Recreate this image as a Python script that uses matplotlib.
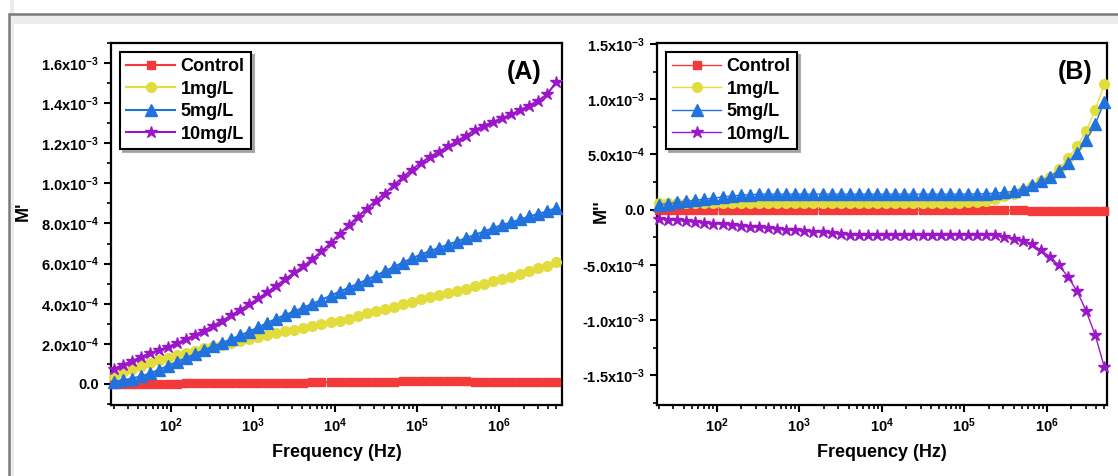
import numpy as np
import matplotlib
matplotlib.use("Agg")
import matplotlib.pyplot as plt
from matplotlib.ticker import FuncFormatter, LogLocator, MultipleLocator, AutoMinorLocator, NullFormatter, LogFormatterMathtext
from matplotlib.patches import Rectangle

plt.rcParams['font.family'] = 'Liberation Sans'
plt.rcParams['font.weight'] = 'bold'
plt.rcParams['mathtext.fontset'] = 'custom'
plt.rcParams['mathtext.rm'] = 'Liberation Sans:bold'
plt.rcParams['mathtext.bf'] = 'Liberation Sans:bold'
plt.rcParams['mathtext.it'] = 'Liberation Sans:bold'
plt.rcParams['mathtext.default'] = 'regular'

# frequency sweep (Hz)
freq = [20, 25.8, 33.2, 42.8, 55.2, 71.1, 91.7, 118.1, 152.3, 196.2,
        252.9, 326.0, 420.1, 541.5, 697.9, 899.5, 1159, 1494, 1926, 2482,
        3199, 4123, 5314, 6849, 8828, 11378, 14665, 18901, 24360, 31397,
        40465, 52154, 67219, 86636, 111660, 143880, 185460, 239040, 308070, 397090,
        511700, 659500, 850000, 1095600, 1412000, 1819700, 2345300, 3022800, 3895900, 5021000]

labels = ['Control', '1mg/L', '5mg/L', '10mg/L']

# M' values, in units of 1e-4
m1_control = [0.0, 0.0, 0.01, 0.01, 0.01, 0.02, 0.02, 0.02, 0.03, 0.03,
              0.03, 0.04, 0.04, 0.04, 0.05, 0.05, 0.05, 0.06, 0.06, 0.06,
              0.07, 0.07, 0.08, 0.08, 0.09, 0.09, 0.10, 0.10, 0.11, 0.11,
              0.12, 0.12, 0.13, 0.13, 0.13, 0.14, 0.14, 0.14, 0.13, 0.13,
              0.12, 0.12, 0.11, 0.10, 0.10, 0.09, 0.09, 0.08, 0.08, 0.08]
m1_1mg = [0.40, 0.57, 0.72, 0.88, 1.04, 1.17, 1.30, 1.42, 1.54, 1.66,
          1.77, 1.87, 1.96, 2.05, 2.13, 2.22, 2.32, 2.42, 2.52, 2.62,
          2.71, 2.80, 2.89, 2.99, 3.07, 3.16, 3.26, 3.38, 3.52, 3.64,
          3.75, 3.86, 3.97, 4.09, 4.22, 4.32, 4.42, 4.52, 4.62, 4.74,
          4.87, 4.99, 5.12, 5.23, 5.34, 5.47, 5.61, 5.76, 5.88, 6.07]
m1_5mg = [0.12, 0.18, 0.27, 0.38, 0.52, 0.71, 0.90, 1.10, 1.29, 1.49,
          1.69, 1.87, 2.04, 2.23, 2.42, 2.61, 2.82, 3.04, 3.25, 3.44,
          3.62, 3.80, 3.99, 4.19, 4.40, 4.60, 4.79, 4.99, 5.19, 5.40,
          5.61, 5.83, 6.05, 6.26, 6.45, 6.62, 6.78, 6.94, 7.10, 7.27,
          7.43, 7.60, 7.77, 7.92, 8.05, 8.20, 8.35, 8.48, 8.60, 8.78]
m1_10mg = [0.75, 0.95, 1.14, 1.34, 1.52, 1.68, 1.85, 2.03, 2.23, 2.44,
           2.66, 2.90, 3.15, 3.42, 3.70, 3.97, 4.26, 4.57, 4.90, 5.23,
           5.56, 5.87, 6.23, 6.61, 7.02, 7.48, 7.90, 8.32, 8.74, 9.12,
           9.49, 9.90, 10.30, 10.68, 11.02, 11.32, 11.58, 11.84, 12.10, 12.38,
           12.66, 12.88, 13.07, 13.25, 13.44, 13.65, 13.88, 14.12, 14.45, 15.05]

# M'' values, in units of 1e-4
m2_control = [0.00, 0.00, 0.00, 0.00, 0.00, 0.00, 0.00, 0.00, 0.00, 0.00,
              0.00, 0.00, 0.00, 0.00, 0.00, 0.00, 0.00, 0.00, 0.00, 0.00,
              -0.01, -0.01, -0.01, -0.01, -0.02, -0.02, -0.02, -0.02, -0.03, -0.03,
              -0.03, -0.04, -0.04, -0.04, -0.05, -0.05, -0.05, -0.06, -0.06, -0.07,
              -0.07, -0.08, -0.08, -0.09, -0.09, -0.10, -0.10, -0.11, -0.11, -0.12]
m2_1mg = [0.60, 0.60, 0.60, 0.61, 0.61, 0.61, 0.62, 0.62, 0.62, 0.62,
          0.62, 0.62, 0.62, 0.62, 0.62, 0.62, 0.62, 0.62, 0.62, 0.62,
          0.62, 0.62, 0.62, 0.62, 0.62, 0.62, 0.62, 0.62, 0.62, 0.62,
          0.62, 0.62, 0.63, 0.63, 0.65, 0.70, 0.78, 0.96, 1.20, 1.44,
          1.74, 2.10, 2.55, 3.00, 3.67, 4.65, 5.77, 7.10, 9.07, 11.40]
m2_5mg = [0.45, 0.55, 0.65, 0.75, 0.85, 0.95, 1.05, 1.15, 1.24, 1.31,
          1.36, 1.39, 1.40, 1.40, 1.40, 1.40, 1.40, 1.40, 1.40, 1.40,
          1.40, 1.40, 1.40, 1.40, 1.40, 1.40, 1.40, 1.40, 1.40, 1.40,
          1.40, 1.40, 1.40, 1.40, 1.41, 1.42, 1.44, 1.50, 1.56, 1.65,
          1.89, 2.19, 2.55, 3.00, 3.54, 4.26, 5.10, 6.30, 7.80, 9.76]
m2_10mg = [-0.85, -0.91, -0.97, -1.04, -1.11, -1.19, -1.26, -1.33, -1.39, -1.46,
           -1.53, -1.60, -1.67, -1.74, -1.80, -1.87, -1.94, -2.00, -2.07, -2.14,
           -2.20, -2.26, -2.30, -2.32, -2.33, -2.34, -2.34, -2.33, -2.32, -2.31,
           -2.30, -2.28, -2.27, -2.26, -2.26, -2.27, -2.30, -2.34, -2.46, -2.64,
           -2.85, -3.15, -3.67, -4.27, -5.05, -6.10, -7.40, -9.20, -11.40, -14.30]

colors = ['#f23a3a', '#e2dc3c', '#2272de', '#9b16c9']
markers = ['s', 'o', '^', '*']
msizes = [6, 7, 8, 9]
UNIT = 1e-4


def sci_fmt(v, pos):
    if abs(v) < 1e-12:
        return '0.0'
    e = int(np.floor(np.log10(abs(v)) + 1e-9))
    m = v / 10 ** e
    return f'{m:.1f}x10$^{{{e}}}$'


def style_axes(ax, ylabel, major, ylim, xlim, ylab_x):
    ax.set_xscale('log')
    ax.set_xlim(*xlim)
    ax.set_ylim(*ylim)
    ax.xaxis.set_major_locator(LogLocator(base=10))
    ax.xaxis.set_major_formatter(LogFormatterMathtext())
    ax.xaxis.set_minor_locator(LogLocator(base=10, subs=np.arange(2, 10)))
    ax.xaxis.set_minor_formatter(NullFormatter())
    ax.yaxis.set_major_locator(MultipleLocator(major))
    ax.yaxis.set_minor_locator(AutoMinorLocator(2))
    ax.yaxis.set_major_formatter(FuncFormatter(sci_fmt))
    ax.tick_params(which='major', direction='out', length=5, width=1.5, labelsize=10.5)
    ax.tick_params(which='minor', direction='out', length=3, width=1.2)
    ax.tick_params(top=False, right=False)
    for s in ax.spines.values():
        s.set_linewidth(1.6)
    ax.set_xlabel('Frequency (Hz)', fontsize=13, fontweight='bold', labelpad=6)
    ax.set_ylabel(ylabel, fontsize=13, fontweight='bold')
    ax.yaxis.set_label_coords(ylab_x, 0.535)
    leg = ax.legend(loc='upper left', prop={'weight': 'bold', 'size': 13},
                    fancybox=False, shadow={'color': '#9a9a9a', 'alpha': 0.8},
                    labelspacing=0.3, handlelength=2.7, handletextpad=0.3,
                    borderpad=0.35, borderaxespad=0.5, framealpha=1)
    leg.get_frame().set_edgecolor('black')
    leg.get_frame().set_linewidth(1.5)


fig = plt.figure(figsize=(11.18, 4.76), dpi=100)
axA = fig.add_axes([0.0993, 0.1492, 0.4034, 0.7605])
axB = fig.add_axes([0.5877, 0.1492, 0.4025, 0.7605])

f = np.array(freq)
seriesA = [m1_control, m1_1mg, m1_5mg, m1_10mg]
seriesB = [m2_control, m2_1mg, m2_5mg, m2_10mg]

for vals, lab, c, mk, ms in zip(seriesA, labels, colors, markers, msizes):
    axA.plot(f, np.array(vals) * UNIT, color=c, marker=mk, ms=ms, mec=c, mfc=c,
             lw=1.5, label=lab, clip_on=False, zorder=3)
for vals, lab, c, mk, ms in zip(seriesB, labels, colors, markers, msizes):
    axB.plot(f, np.array(vals) * UNIT, color=c, marker=mk, ms=ms, mec=c, mfc=c,
             lw=1.0, label=lab, clip_on=False, zorder=3)

style_axes(axA, "M'", 2e-4, (-1.05e-4, 1.70e-3), (18.5, 5.9e6), -0.175)
style_axes(axB, "M''", 5e-4, (-1.77e-3, 1.51e-3), (19, 5.4e6), -0.105)

axA.text(0.915, 0.92, '(A)', transform=axA.transAxes, ha='center', va='center',
         fontsize=18, fontweight='bold')
axB.text(0.93, 0.92, '(B)', transform=axB.transAxes, ha='center', va='center',
         fontsize=18, fontweight='bold')

# outer frame of the figure panel
W, H = 1118, 476
fig.add_artist(Rectangle((10 / W, 1 - 24 / H), 1, 9 / H, transform=fig.transFigure,
                         facecolor='#ececec', edgecolor='none', zorder=0))
fig.add_artist(Rectangle((10 / W, -0.1), 4 / W, 1.1, transform=fig.transFigure,
                         facecolor='#ececec', edgecolor='none', zorder=0))
fig.add_artist(Rectangle((9 / W, -0.1), 1.2, 1.1 - 14 / H, transform=fig.transFigure,
                         fill=False, edgecolor='#7a7a7a', lw=1.8, zorder=1))

fig.savefig('out.png', dpi=100)
